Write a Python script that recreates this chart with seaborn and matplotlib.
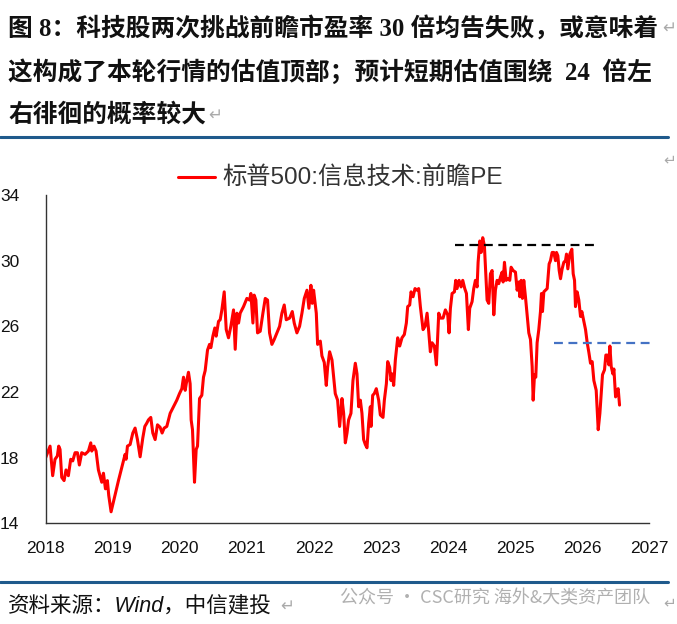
import matplotlib
matplotlib.use("Agg")
import matplotlib.pyplot as plt
import numpy as np
import pandas as pd
import seaborn as sns

# decimal year and forward PE
years = [2018.000, 2018.065, 2018.104, 2018.139, 2018.174, 2018.194, 2018.214, 2018.239, 2018.274, 2018.303,
         2018.338, 2018.373, 2018.403, 2018.438, 2018.473, 2018.502, 2018.537, 2018.587, 2018.637, 2018.672,
         2018.687, 2018.721, 2018.751, 2018.786, 2018.836, 2018.861, 2018.891, 2018.920, 2018.940, 2018.975,
         2019.010, 2019.085, 2019.149, 2019.184, 2019.199, 2019.219, 2019.259, 2019.299, 2019.333, 2019.368,
         2019.408, 2019.448, 2019.478, 2019.507, 2019.532, 2019.567, 2019.597, 2019.632, 2019.667, 2019.706,
         2019.736, 2019.766, 2019.806, 2019.856, 2019.905, 2019.955, 2019.995, 2020.030, 2020.055, 2020.080,
         2020.104, 2020.129, 2020.154, 2020.169, 2020.189, 2020.204, 2020.219, 2020.244, 2020.264, 2020.294,
         2020.328, 2020.353, 2020.378, 2020.413, 2020.443, 2020.463, 2020.493, 2020.522, 2020.542, 2020.577,
         2020.602, 2020.627, 2020.662, 2020.692, 2020.726, 2020.761, 2020.801, 2020.826, 2020.851, 2020.876,
         2020.900, 2020.950, 2021.000, 2021.040, 2021.060, 2021.090, 2021.109, 2021.134, 2021.159, 2021.199,
         2021.239, 2021.274, 2021.308, 2021.338, 2021.373, 2021.408, 2021.448, 2021.488, 2021.522, 2021.557,
         2021.587, 2021.637, 2021.677, 2021.706, 2021.746, 2021.786, 2021.821, 2021.856, 2021.896, 2021.925,
         2021.955, 2021.975, 2021.995, 2022.035, 2022.055, 2022.095, 2022.119, 2022.154, 2022.184, 2022.204,
         2022.234, 2022.269, 2022.294, 2022.318, 2022.353, 2022.383, 2022.418, 2022.443, 2022.468, 2022.493,
         2022.517, 2022.552, 2022.582, 2022.617, 2022.642, 2022.667, 2022.692, 2022.716, 2022.741, 2022.766,
         2022.791, 2022.816, 2022.841, 2022.851, 2022.876, 2022.900, 2022.930, 2022.965, 2022.990, 2023.030,
         2023.050, 2023.080, 2023.100, 2023.129, 2023.149, 2023.169, 2023.189, 2023.214, 2023.249, 2023.279,
         2023.313, 2023.348, 2023.378, 2023.398, 2023.428, 2023.448, 2023.478, 2023.507, 2023.537, 2023.562,
         2023.587, 2023.627, 2023.657, 2023.687, 2023.711, 2023.736, 2023.761, 2023.796, 2023.826, 2023.861,
         2023.886, 2023.925, 2023.960, 2023.995, 2024.015, 2024.035, 2024.060, 2024.095, 2024.114, 2024.134,
         2024.164, 2024.194, 2024.219, 2024.249, 2024.274, 2024.303, 2024.323, 2024.358, 2024.383, 2024.408,
         2024.433, 2024.448, 2024.473, 2024.493, 2024.517, 2024.542, 2024.562, 2024.582, 2024.607, 2024.632,
         2024.657, 2024.682, 2024.706, 2024.731, 2024.756, 2024.781, 2024.806, 2024.821, 2024.841, 2024.866,
         2024.891, 2024.920, 2024.940, 2024.970, 2025.005, 2025.030, 2025.055, 2025.070, 2025.090, 2025.109,
         2025.129, 2025.154, 2025.179, 2025.204, 2025.229, 2025.254, 2025.269, 2025.289, 2025.308, 2025.328,
         2025.353, 2025.378, 2025.393, 2025.408, 2025.428, 2025.453, 2025.478, 2025.507, 2025.527, 2025.552,
         2025.577, 2025.602, 2025.617, 2025.637, 2025.657, 2025.677, 2025.701, 2025.726, 2025.751, 2025.766,
         2025.786, 2025.816, 2025.846, 2025.866, 2025.886, 2025.900, 2025.925, 2025.950, 2025.975, 2025.995,
         2026.025, 2026.050, 2026.075, 2026.100, 2026.124, 2026.149, 2026.174, 2026.209, 2026.239, 2026.264,
         2026.284, 2026.303, 2026.333, 2026.353, 2026.373, 2026.398, 2026.413, 2026.433, 2026.458, 2026.473,
         2026.498, 2026.522, 2026.537, 2026.557]

pe = [18.0, 18.7, 16.9, 17.9, 18.1, 18.7, 18.5, 16.8, 16.6, 17.25,
      16.9, 17.9, 17.8, 18.3, 18.3, 17.55, 18.3, 18.2, 18.4, 18.9,
      18.4, 18.7, 18.4, 17.25, 16.5, 17.05, 16.1, 16.6, 15.7, 14.7,
      15.3, 16.6, 17.65, 18.2, 17.9, 18.7, 18.8, 19.5, 19.8, 19.1,
      18.05, 19.2, 19.9, 20.1, 20.3, 20.45, 19.5, 19.1, 20.0, 19.85,
      19.5, 19.8, 19.9, 20.7, 21.1, 21.5, 21.9, 22.2, 22.9, 22.1,
      22.7, 23.2, 22.5, 20.3, 19.7, 18.06, 16.5, 18.5, 18.7, 21.6,
      21.8, 22.9, 23.3, 24.55, 24.9, 24.7, 25.4, 25.9, 25.4, 26.3,
      26.4, 27.0, 28.1, 25.8, 25.3, 26.0, 27.0, 24.6, 26.8, 26.2,
      26.8, 27.2, 27.7, 27.6, 28.0, 26.2, 27.9, 27.6, 25.6, 25.7,
      26.8, 27.7, 27.6, 25.6, 24.9, 25.2, 25.6, 26.0, 26.8, 27.3,
      26.4, 26.5, 26.9, 26.2, 25.6, 26.0, 26.8, 27.7, 28.2, 27.1,
      28.5, 27.4, 28.2, 26.8, 24.9, 25.1, 24.2, 23.8, 22.4, 23.5,
      24.45, 23.95, 22.9, 21.9, 21.5, 19.9, 21.6, 20.7, 18.9, 19.5,
      20.3, 20.7, 22.7, 23.75, 23.1, 21.1, 21.5, 20.7, 19.1, 18.8,
      18.6, 20.1, 21.1, 19.9, 21.8, 21.9, 22.2, 21.5, 20.6, 20.45,
      21.5, 22.5, 23.85, 23.5, 22.7, 23.1, 22.4, 23.95, 25.3, 24.8,
      25.3, 25.5, 26.2, 27.2, 27.3, 28.1, 27.8, 28.3, 28.2, 28.3,
      27.2, 25.8, 26.0, 26.8, 25.7, 24.45, 25.0, 24.8, 23.65, 26.8,
      26.5, 26.5, 27.0, 26.7, 25.6, 27.1, 28.0, 28.1, 28.8, 28.3,
      28.8, 28.4, 28.8, 28.3, 28.0, 25.8, 27.1, 27.5, 28.3, 28.8,
      28.4, 29.9, 31.2, 30.5, 31.4, 30.9, 29.2, 27.6, 27.4, 29.2,
      29.4, 26.7, 28.2, 28.8, 28.6, 29.0, 29.3, 28.7, 29.9, 28.8,
      28.9, 28.8, 29.6, 29.4, 29.3, 28.2, 28.7, 27.8, 28.8, 27.7,
      28.8, 27.8, 26.7, 25.6, 25.2, 23.55, 21.5, 23.05, 22.9, 25.0,
      25.8, 26.9, 28.0, 26.9, 28.1, 28.2, 28.3, 29.8, 30.0, 30.5,
      30.5, 30.0, 30.5, 30.3, 29.4, 28.9, 29.5, 29.9, 30.0, 30.4,
      29.5, 30.4, 30.7, 29.2, 28.8, 27.2, 28.1, 27.6, 26.6, 26.9,
      26.3, 25.8, 25.0, 24.4, 23.75, 23.85, 22.7, 22.1, 19.7, 20.7,
      21.9, 23.05, 23.35, 24.25, 24.25, 23.65, 24.8, 23.55, 23.1, 23.4,
      21.7, 22.1, 22.2, 21.2]

# reference lines: level and span in decimal years
top_level = 30.93
top_span = [2024.11, 2026.17]
support_level = 24.96
support_span = [2025.58, 2027.08]

year_ticks = list(range(2018, 2028))
pe_ticks = [14, 18, 22, 26, 30, 34]

series_name = "标普500:信息技术:前瞻PE"
title_lines = ["图 8：科技股两次挑战前瞻市盈率 30 倍均告失败，或意味着",
               "这构成了本轮行情的估值顶部；预计短期估值围绕  24  倍左",
               "右徘徊的概率较大"]
source_text = "资料来源：Wind，中信建投"
watermark = "公众号 · CSC研究 海外&大类资产团队"

df = pd.DataFrame({"year": years, "pe": pe})

sns.set_style("white")
plt.rcParams["font.family"] = ["Liberation Sans", "Noto Sans CJK SC", "DejaVu Sans"]

fig = plt.figure(figsize=(6.77, 6.24), dpi=100)
ax = fig.add_axes([0.0675, 0.1614, 0.8915, 0.5261])

sns.lineplot(data=df, x="year", y="pe", ax=ax, color="#ff0000", linewidth=2.2)
ax.hlines(top_level, top_span[0], top_span[1], colors="black",
          linestyles=(0, (4, 2.5)), linewidth=1.6, clip_on=False)
ax.hlines(support_level, support_span[0], support_span[1], colors="#4472c4",
          linestyles=(0, (4, 2.5)), linewidth=1.6, clip_on=False)

ax.set_xlim(year_ticks[0], year_ticks[-1])
ax.set_ylim(pe_ticks[0], pe_ticks[-1])
ax.set_xticks(year_ticks)
ax.set_yticks(pe_ticks)
ax.set_xlabel("")
ax.set_ylabel("")
sns.despine(ax=ax)
for side in ["left", "bottom"]:
    ax.spines[side].set_color("#333333")
    ax.spines[side].set_linewidth(1.0)
ax.tick_params(axis="both", direction="out", length=5, width=1.0,
               color="#333333", labelsize=12.5, labelcolor="#111111")
ax.tick_params(axis="x", pad=8)
ax.tick_params(axis="y", pad=14)

# legend drawn by hand above the plot
fig.add_artist(plt.Line2D([178 / 677, 215 / 677], [1 - 177 / 624] * 2,
                          color="#ff0000", linewidth=2.2))
fig.text(222 / 677, 1 - 177 / 624, series_name, fontsize=17.5, color="#333333",
         va="center", ha="left", family=["Liberation Sans", "Noto Sans CJK SC"])

# title block
title_y = [28, 72, 115]
for line, y in zip(title_lines, title_y):
    fig.text(8 / 677, 1 - y / 624, line, fontsize=17.8, fontweight="bold",
             color="#111111", va="center", ha="left",
             family=["Liberation Serif", "Noto Sans CJK SC"])
fig.text(676 / 677, 1 - 28 / 624, "↵", fontsize=12, color="#aaaaaa", va="center",
         ha="right", family=["DejaVu Sans"])
fig.text(208 / 677, 1 - 115 / 624, "↵", fontsize=12, color="#aaaaaa", va="center",
         ha="left", family=["DejaVu Sans"])
fig.text(676 / 677, 1 - 160 / 624, "↵", fontsize=11, color="#aaaaaa", va="center",
         ha="right", family=["DejaVu Sans"])

# blue rules
fig.add_artist(plt.Line2D([0, 668 / 677], [1 - 137 / 624] * 2, color="#1f5a8c", linewidth=2.2))
fig.add_artist(plt.Line2D([0, 668 / 677], [1 - 582 / 624] * 2, color="#1f5a8c", linewidth=2.2))

# footer
fig.text(8 / 677, 1 - 606 / 624, source_text, fontsize=15.5, style="italic",
         color="#111111", va="center", ha="left",
         family=["Liberation Sans", "Noto Sans CJK SC"])
fig.text(280 / 677, 1 - 606 / 624, "↵", fontsize=12, color="#aaaaaa", va="center",
         ha="left", family=["DejaVu Sans"])
fig.text(340 / 677, 1 - 598 / 624, watermark, fontsize=13, color="#b0b0b0",
         va="center", ha="left", family=["Noto Sans CJK SC", "DejaVu Sans"])
fig.text(676 / 677, 1 - 603 / 624, "↵", fontsize=11, color="#aaaaaa", va="center",
         ha="right", family=["DejaVu Sans"])

fig.savefig("out.png", dpi=100)
